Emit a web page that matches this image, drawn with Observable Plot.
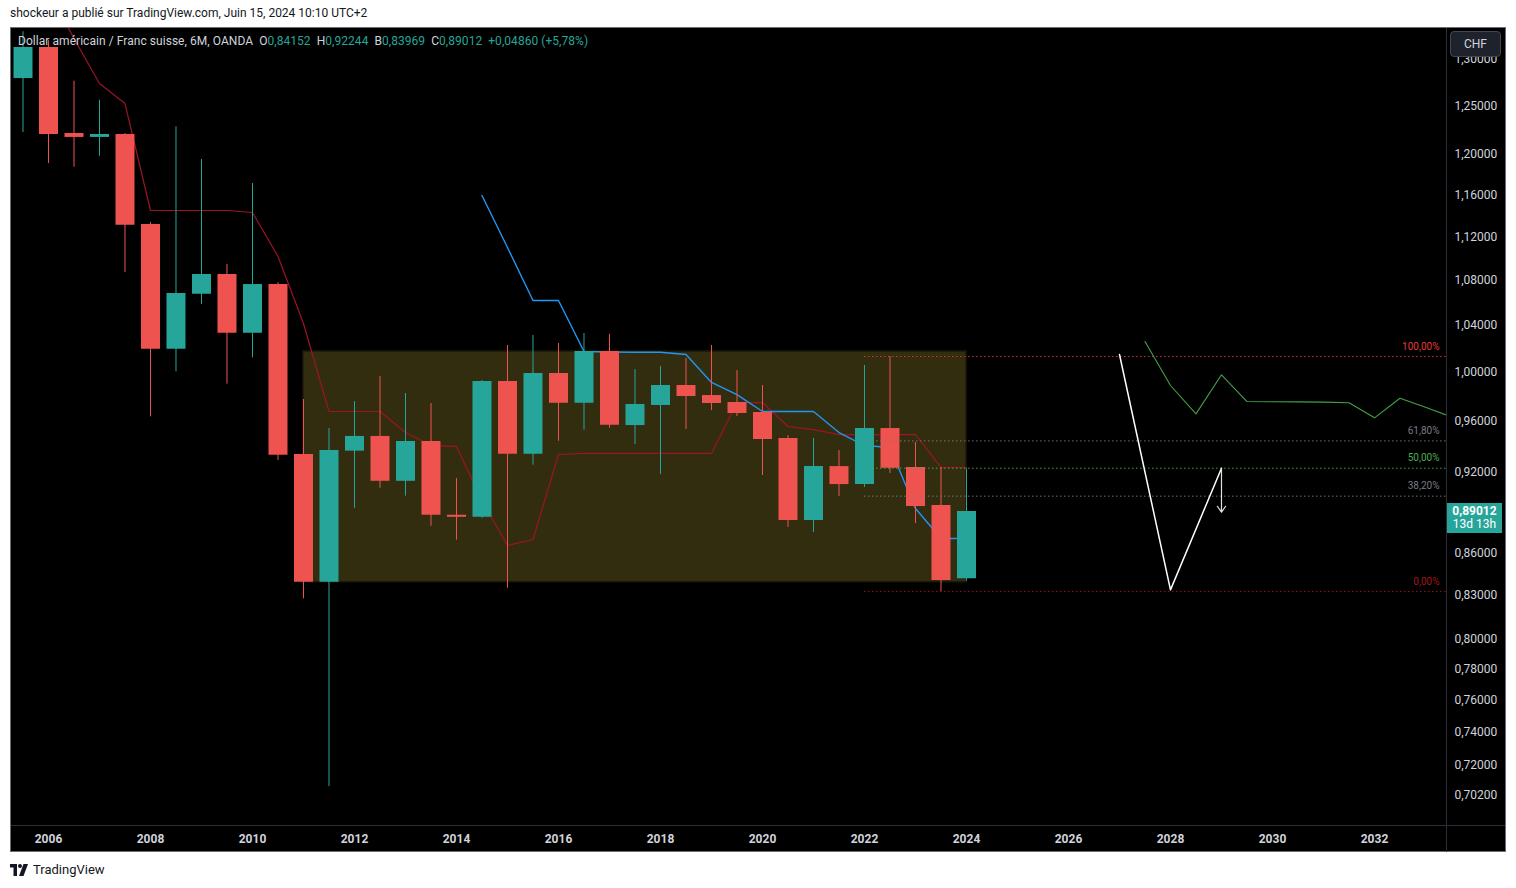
<!DOCTYPE html>
<html><head><meta charset="utf-8">
<script src="https://cdn.jsdelivr.net/npm/d3@7"></script>
<script src="https://cdn.jsdelivr.net/npm/@observablehq/plot@0.6"></script>
<style>
body{margin:0;background:#fff;width:1516px;height:888px;position:relative;overflow:hidden;font-family:Roboto,"Noto Sans",sans-serif;}
#hdr{position:absolute;left:10px;top:6px;font-size:12px;color:#131722;white-space:nowrap;}
#frame{position:absolute;left:10px;top:27px;width:1496px;height:825px;background:#000;box-sizing:border-box;border:1px solid #6b6e78;}
#chart{position:absolute;left:10px;top:27px;}
.sep{position:absolute;background:#2a2e39;}
#legend{position:absolute;left:18px;top:34px;font-size:12px;color:#d1d4dc;white-space:nowrap;letter-spacing:0.05px;}
#legend .v{color:#26a69a;margin-right:6px;}
#chf{position:absolute;left:1450px;top:31px;width:51px;height:26px;box-sizing:border-box;background:#1e222d;border:1px solid #434651;border-radius:4px;color:#d1d4dc;font-size:12px;line-height:24px;text-align:center;}
#tag{position:absolute;left:1447px;width:55px;height:30px;background:#26a69a;color:#fff;font-size:12px;line-height:13px;text-align:center;padding-top:2px;box-sizing:border-box;}
#foot{position:absolute;left:10px;top:862px;font-size:13px;color:#131722;display:flex;align-items:center;gap:5px;}
</style></head>
<body>
<div id="hdr">shockeur a publié sur TradingView.com, Juin 15, 2024 10:10 UTC+2</div>
<div id="frame"></div>
<div id="chart"></div>
<div class="sep" style="left:1446px;top:28px;width:1px;height:824px"></div>
<div class="sep" style="left:11px;top:825px;width:1494px;height:1px"></div>
<div id="legend">Dollar américain / Franc suisse, 6M, OANDA&nbsp;&nbsp;O<span class="v">0,84152</span>H<span class="v">0,92244</span>B<span class="v">0,83969</span>C<span class="v">0,89012</span><span class="v">+0,04860 (+5,78%)</span></div>
<div id="chf">CHF</div>
<div id="tag"><b>0,89012</b><br>13d 13h</div>
<div id="foot"><svg width="18" height="12" viewBox="0 0 36 24"><path d="M0 0h14v24H7V7H0z" fill="#131722"/><circle cx="20" cy="4" r="4" fill="#131722"/><path d="M27 0h9L27 24h-9z" fill="#131722"/></svg><span>TradingView</span></div>
<script>
// ---- Data (6M candles, USD/CHF, OANDA) ----
const periods = [2005.5,2006.0,2006.5,2007.0,2007.5,2008.0,2008.5,2009.0,2009.5,2010.0,2010.5,2011.0,2011.5,2012.0,2012.5,2013.0,2013.5,2014.0,2014.5,2015.0,2015.5,2016.0,2016.5,2017.0,2017.5,2018.0,2018.5,2019.0,2019.5,2020.0,2020.5,2021.0,2021.5,2022.0,2022.5,2023.0,2023.5,2024.0];
const openV  = [1.2789,1.3126,1.2214,1.2174,1.2204,1.1318,1.0197,1.0677,1.0855,1.0334,1.0764,0.9337,0.8391,0.9363,0.9479,0.9130,0.9439,0.8874,0.8859,0.9925,0.9339,0.9992,0.9746,1.0177,0.9566,0.9728,0.9892,0.9809,0.9752,0.9671,0.9463,0.8835,0.9243,0.9105,0.9542,0.9236,0.8947,0.84152];
const highV  = [1.3300,1.3200,1.2760,1.2559,1.2214,1.1337,1.2283,1.1951,1.0946,1.1714,1.0782,0.9777,0.9542,0.9760,0.9967,0.9826,0.9744,0.9151,0.9933,1.0229,1.0315,1.0246,1.0332,1.0323,1.0025,1.0050,1.0118,1.0229,1.0017,0.9892,0.9486,0.9463,0.9368,1.0059,1.0135,0.9431,0.9236,0.92244];
const lowV   = [1.2224,1.1911,1.1874,1.1984,1.0873,0.9636,1.0006,1.0586,0.9903,1.0124,0.9290,0.8275,0.7072,0.8926,0.9077,0.9017,0.8793,0.8691,0.8852,0.8349,0.9254,0.9441,0.9529,0.9545,0.9415,0.9182,0.9534,0.9687,0.9639,0.9174,0.8784,0.8747,0.9014,0.9083,0.9190,0.8813,0.8326,0.83969];
const closeV = [1.3126,1.2204,1.2174,1.2204,1.1312,1.0197,1.0683,1.0855,1.0334,1.0764,0.9331,0.8391,0.9368,0.9479,0.9130,0.9439,0.8874,0.8859,0.9925,0.9339,0.9992,0.9746,1.0177,0.9569,0.9736,0.9892,0.9801,0.9744,0.9663,0.9455,0.8835,0.9243,0.9105,0.9542,0.9230,0.8939,0.8402,0.89012];

// dark red indicator line
const redT = [2006.0,2006.5,2007.0,2007.5,2008.0,2008.5,2009.0,2009.5,2010.0,2010.5,2011.0,2011.5,2012.0,2012.5,2013.0,2013.5,2014.0,2014.5,2015.0,2015.5,2016.0,2016.5,2017.0,2017.5,2018.0,2018.5,2019.0,2019.5,2020.0,2020.5,2021.0,2021.5,2022.0,2022.5,2023.0,2023.5,2024.0];
const redV = [1.3767,1.3225,1.2736,1.2524,1.1452,1.1452,1.1452,1.1452,1.1433,1.1020,1.0419,0.9679,0.9679,0.9679,0.9510,0.9407,0.9400,0.8984,0.8652,0.8696,0.9337,0.9345,0.9345,0.9345,0.9345,0.9345,0.9345,0.9752,0.9752,0.9558,0.9534,0.9494,0.9494,0.9494,0.9494,0.9236,0.9236];

// blue indicator line
const blueT = [2014.5,2015.0,2015.5,2016.0,2016.5,2017.0,2017.5,2018.0,2018.5,2019.0,2019.5,2020.0,2020.5,2021.0,2021.5,2022.0,2022.5,2023.0,2023.5,2024.0];
const blueV = [1.1597,1.1103,1.0621,1.0621,1.0177,1.0173,1.0171,1.0171,1.0152,0.9917,0.9817,0.9679,0.9679,0.9679,0.9510,0.9407,0.9392,0.8924,0.8703,0.8703];

// range box
const boxStart = 2011.0, boxEnd = 2024.0, boxLow = 0.8391, boxHigh = 1.0177;

// fibonacci retracement
const fibHigh = 1.0135, fibLow = 0.8326, fibStart = 2022.0;
const fibLevels = [1, 0.618, 0.5, 0.382, 0];
const fibLabels = ["100,00%","61,80%","50,00%","38,20%","0,00%"];
const fibColors = ["#e53935","#787b86","#4caf50","#787b86","#a3141c"];

// white projection path + arrow
const whiteT = [2027.0, 2028.0, 2029.0];
const whiteV = [1.0152, 0.8337, 0.9230];
const arrowT = 2029.0, arrowFrom = 0.9230, arrowTo = 0.8897;

// green projection line
const greenT = [2027.5,2028.0,2028.5,2029.0,2029.5,2030.0,2030.5,2031.0,2031.5,2032.0,2032.5,2033.0,2033.5];
const greenV = [1.0263,0.9892,0.9660,0.9981,0.9760,0.9758,0.9757,0.9755,0.9750,0.9628,0.9787,0.9714,0.9637];

// axes
const yTicks = [1.30,1.25,1.20,1.16,1.12,1.08,1.04,1.00,0.96,0.92,0.86,0.83,0.80,0.78,0.76,0.74,0.72,0.702];
const xTicks = [2006,2008,2010,2012,2014,2016,2018,2020,2022,2024,2026,2028,2030,2032];
const xDomain = [2005.255, 2033.412];
const yDomain = [0.6845, 1.3336];

const UP = "#26a69a", DOWN = "#ef5350";
const candles = periods.map((t,i)=>({t, o:openV[i], h:highV[i], l:lowV[i], c:closeV[i], col: closeV[i]>=openV[i]?UP:DOWN}));
const red = redT.map((t,i)=>({t, v:redV[i]}));
const blue = blueT.map((t,i)=>({t, v:blueV[i]}));
const white = whiteT.map((t,i)=>({t, v:whiteV[i]}));
const green = greenT.map((t,i)=>({t, v:greenV[i]}));
const fib = fibLevels.map((k,i)=>({v: fibLow + k*(fibHigh-fibLow), label: fibLabels[i], col: fibColors[i]}));
const fmt = d => d.toFixed(5).replace(".", ",");

const plot = Plot.plot({
  width:1496, height:825, marginLeft:0, marginRight:60, marginTop:1, marginBottom:27,
  style:{background:"transparent", color:"#d1d4dc", fontFamily:"Roboto, 'Noto Sans', sans-serif", fontSize:"12px"},
  x:{domain:xDomain},
  y:{type:"log", domain:yDomain, axis:null},
  color:{type:"identity"},
  marks:[
    Plot.rect([{x1:boxStart,x2:boxEnd,y1:boxLow,y2:boxHigh}], {x1:"x1",x2:"x2",y1:"y1",y2:"y2", fill:"#332d10", stroke:"#1d1a08", strokeWidth:1.5}),
    Plot.line(red, {x:"t", y:"v", stroke:"#9c1426", strokeWidth:1.2, clip:true}),
    Plot.line(blue, {x:"t", y:"v", stroke:"#2196f3", strokeWidth:1.4, clip:true}),
    Plot.ruleX(candles, {x:"t", y1:"l", y2:"h", stroke:"col", strokeWidth:1, clip:true}),
    Plot.ruleX(candles, {x:"t", y1:"o", y2:"c", stroke:"col", strokeWidth:19, clip:true}),
    Plot.ruleY(fib, {y:"v", x1:fibStart, x2:xDomain[1], stroke:"col", strokeWidth:1, strokeDasharray:"1.5,2.5", strokeOpacity:0.9}),
    Plot.text(fib, {y:"v", x:xDomain[1], text:"label", fill:"col", textAnchor:"end", dx:-7, dy:-10, fontSize:10}),
    Plot.line(white, {x:"t", y:"v", stroke:"#ffffff", strokeWidth:1.5}),
    Plot.arrow([{x:arrowT, y1:arrowFrom, y2:arrowTo}], {x1:"x", x2:"x", y1:"y1", y2:"y2", stroke:"#e0e0e0", strokeWidth:1.2, headLength:9, headAngle:70}),
    Plot.line(green, {x:"t", y:"v", stroke:"#43a047", strokeWidth:1.1, clip:true}),
    Plot.text(yTicks, {x:xDomain[1], y:d=>d, text:fmt, textAnchor:"start", dx:8, fill:"#d1d4dc", fontSize:12}),
    Plot.axisX({anchor:"bottom", ticks:xTicks, tickFormat:d=>String(d), tickSize:0, tickPadding:9, label:null, fill:"#d1d4dc", fontWeight:"bold"})
  ]
});
document.getElementById("chart").appendChild(plot);
const yPix = plot.scale("y").apply(closeV[closeV.length-1]);
document.getElementById("tag").style.top = (27 + yPix - 8) + "px";
</script>
</body></html>
